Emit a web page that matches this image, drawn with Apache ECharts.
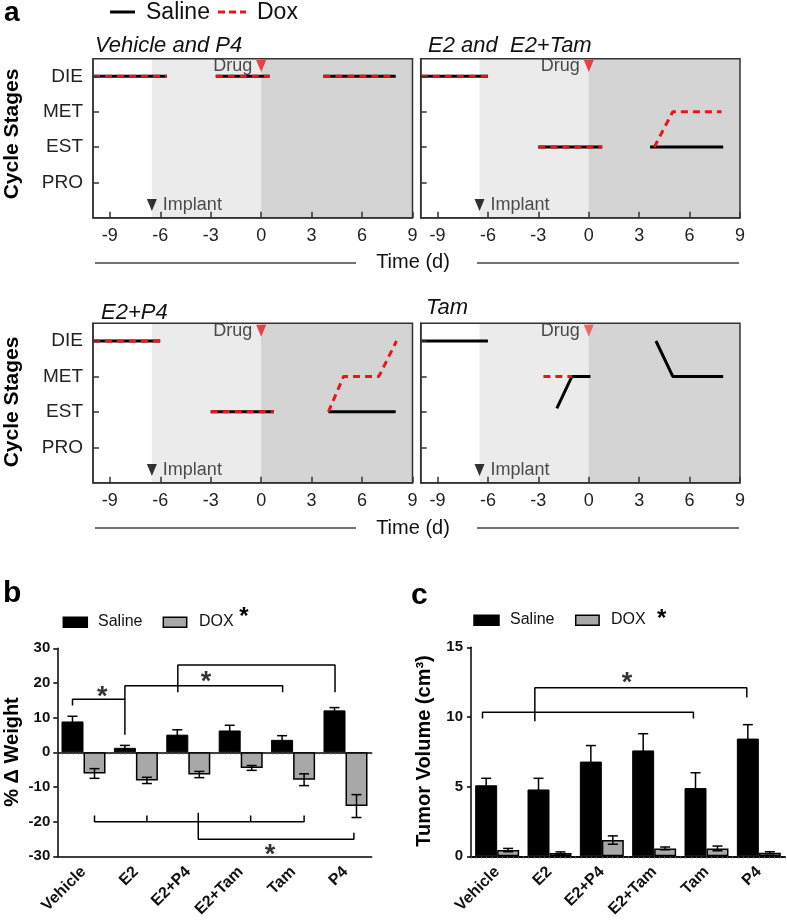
<!DOCTYPE html>
<html><head><meta charset="utf-8">
<script src="https://cdn.jsdelivr.net/npm/echarts@6/dist/echarts.min.js"></script>
<style>html,body{margin:0;padding:0;background:#fff}#c{width:787px;height:920px}</style>
</head><body><div id="c"></div>
<script>
const FONT = '"Liberation Sans", Arial, Helvetica, sans-serif';

// ---------- Panel a data ----------
const stageNames = ['PRO', 'EST', 'MET', 'DIE'];
const stageValues = [1, 2, 3, 4];
const timeTicks = [-9, -6, -3, 0, 3, 6, 9];
const implantDay = -6.5;
const drugDay = 0;
const panelTitles = ['Vehicle and P4', 'E2 and  E2+Tam', 'E2+P4', 'Tam'];

const vehP4Saline = [[[-10, 4], [-5.6, 4]], [[-2.7, 4], [0.5, 4]], [[3.7, 4], [8, 4]]];
const vehP4Dox    = [[[-10, 4], [-5.6, 4]], [[-2.7, 4], [0.5, 4]], [[3.7, 4], [8, 4]]];
const e2Saline    = [[[-10, 4], [-6, 4]], [[-3, 2], [0.8, 2]], [[3.65, 2], [8, 2]]];
const e2Dox       = [[[-10, 4], [-6, 4]], [[-3, 2], [0.8, 2]], [[3.9, 2], [5, 3], [7.9, 3]]];
const e2p4Saline  = [[[-10, 4], [-6, 4]], [[-3, 2], [0.75, 2]], [[4, 2], [8, 2]]];
const e2p4Dox     = [[[-10, 4], [-6, 4]], [[-3, 2], [0.75, 2]], [[4, 2], [4.9, 3], [7, 3], [8.05, 4]]];
const tamSaline   = [[[-10, 4], [-6, 4]], [[-1.9, 2.1], [-1, 3], [0.1, 3]], [[4, 4], [5, 3], [8, 3]]];
const tamDox      = [[[-2.7, 3], [-1, 3]]];

const panelSaline = [vehP4Saline, e2Saline, e2p4Saline, tamSaline];
const panelDox = [vehP4Dox, e2Dox, e2p4Dox, tamDox];

// ---------- Panel b / c data ----------
const categories = ['Vehicle', 'E2', 'E2+P4', 'E2+Tam', 'Tam', 'P4'];
const weightSaline    = [8.9, 1.3, 5.1, 6.3, 3.6, 12.1];
const weightSalineErr = [1.5, 0.7, 1.4, 1.5, 1.2, 0.8];
const weightDox       = [-6.1, -8.1, -6.4, -4.5, -7.9, -15.5];
const weightDoxErr    = [1.4, 0.9, 0.9, 0.7, 1.7, 3.3];
const weightTicks = { min: -30, max: 30, interval: 10 };

const volumeSaline    = [5.1, 4.8, 6.8, 7.6, 4.9, 8.45];
const volumeSalineErr = [0.5, 0.8, 1.15, 1.2, 1.1, 1.0];
const volumeDox       = [0.45, 0.24, 1.17, 0.57, 0.57, 0.26];
const volumeDoxErr    = [0.12, 0.08, 0.3, 0.1, 0.17, 0.07];
const volumeTicks = { min: 0, max: 15, interval: 5 };

// significance brackets (x in category units 0..6, y in data units)
const weightBrackets = [
  [[0.29, 13.5], [0.29, 15.3], [1.29, 15.3]],
  [[1.29, 5.1], [1.29, 19.2], [4.3, 19.2], [4.3, 17.3]],
  [[2.3, 17.3], [2.3, 25.2], [5.3, 25.2], [5.3, 17.3]],
  [[0.71, -18.2], [0.71, -20], [4.71, -20], [4.71, -18.2]],
  [[1.71, -18.2], [1.71, -20]],
  [[3.69, -18.2], [3.69, -20]],
  [[2.69, -17.4], [2.69, -25.1], [5.66, -25.1], [5.66, -23.2]]
];
const weightStars = [[0.86, 17.5], [2.84, 21.9], [4.06, -28.0]];
const volumeBrackets = [
  [[0.22, 9.9], [0.22, 10.34], [4.25, 10.34], [4.25, 9.9]],
  [[1.22, 9.7], [1.22, 12.1], [5.27, 12.1], [5.27, 11.4]]
];
const volumeStars = [[2.98, 12.8]];

// ---------- layout ----------
const aGrids = [
  { left: 93, top: 58.7, width: 319.5, height: 159 },
  { left: 420.7, top: 58.7, width: 319.3, height: 159 },
  { left: 93, top: 323.3, width: 319.5, height: 159.4 },
  { left: 420.7, top: 323.3, width: 319.3, height: 159.4 }
];
const RED = '#e8161b';
const AX = '#333';

const grids = [], xAxes = [], yAxes = [], series = [];

aGrids.forEach((g, i) => {
  grids.push(Object.assign({ show: true, borderColor: AX, borderWidth: 1.5, backgroundColor: 'transparent', z: 6 }, g));
  xAxes.push({
    type: 'value', gridIndex: i, min: -10, max: 9, z: 6,
    axisLine: { show: true, onZero: false, lineStyle: { color: AX, width: 1.5 } },
    axisTick: { show: true, inside: true, length: 6, customValues: timeTicks, lineStyle: { color: AX, width: 1.5 } },
    axisLabel: { customValues: timeTicks, fontSize: 18, color: '#222', margin: 9, fontFamily: FONT },
    splitLine: { show: false }
  });
  yAxes.push({
    type: 'value', gridIndex: i, min: 0, max: 4.5, z: 6,
    axisLine: { show: true, onZero: false, lineStyle: { color: AX, width: 1.5 } },
    axisTick: { show: true, inside: true, length: 6, customValues: stageValues, lineStyle: { color: AX, width: 1.5 } },
    axisLabel: { show: i % 2 === 0, customValues: stageValues, fontSize: 19, color: '#222', margin: 10, fontFamily: FONT,
      formatter: v => stageNames[stageValues.indexOf(v)] },
    splitLine: { show: false }
  });
  panelSaline[i].forEach((seg, k) => {
    const s = {
      type: 'line', xAxisIndex: i, yAxisIndex: i, data: seg, symbol: 'none', silent: true, z: 2,
      lineStyle: { color: '#000', width: 3 }
    };
    if (k === 0) {
      s.markArea = { silent: true, data: [
        [{ xAxis: implantDay, itemStyle: { color: '#ebebeb' } }, { xAxis: 9 }],
        [{ xAxis: drugDay, itemStyle: { color: '#d4d4d4' } }, { xAxis: 9 }]
      ] };
    }
    series.push(s);
  });
  panelDox[i].forEach(seg => {
    series.push({
      type: 'line', xAxisIndex: i, yAxisIndex: i, data: seg, symbol: 'none', silent: true, z: 3,
      lineStyle: { color: RED, width: 3, type: [7, 5] }
    });
  });
  series.push({
    type: 'scatter', xAxisIndex: i, yAxisIndex: i, silent: true, z: 4,
    symbol: 'triangle', symbolRotate: 180, symbolSize: [10, 12],
    data: [{ value: [implantDay, 0.36], itemStyle: { color: '#000' },
             label: { show: true, position: 'right', distance: 6, formatter: 'Implant' } },
           { value: [drugDay, 4.29], itemStyle: { color: i === 3 ? '#f04848' : RED },
             label: { show: true, position: 'left', distance: 4, formatter: 'Drug' } }],
    label: { fontSize: 18, color: '#222', fontFamily: FONT }
  });
});

// panel b (grid 4) and c (grid 5)
grids.push({ left: 57.3, top: 648.3, width: 314.4, height: 208.4 });
grids.push({ left: 471, top: 647.3, width: 314, height: 209.4 });

function catAxis(gi) {
  return {
    type: 'category', gridIndex: gi, data: categories, position: 'bottom',
    axisLine: { onZero: false, lineStyle: { color: '#000', width: 1.5 } },
    axisTick: { show: false },
    axisLabel: { rotate: 45, interval: 0, fontSize: 16, fontWeight: 'bold', color: '#111', margin: 13, fontFamily: FONT }
  };
}
function helperAxis(gi) {
  return {
    type: 'value', gridIndex: gi, min: 0, max: 6, interval: 1, position: 'bottom',
    axisLine: { show: true, onZero: true, lineStyle: { color: '#000', width: 1.5 } },
    axisTick: { show: true, length: 2, lineStyle: { color: '#555', width: 1 } },
    minorTick: { show: true, splitNumber: 10, length: 2, lineStyle: { color: '#555', width: 1 } },
    axisLabel: { show: false }, splitLine: { show: false }
  };
}
function valAxis(gi, t, margin) {
  return {
    type: 'value', gridIndex: gi, min: t.min, max: t.max, interval: t.interval,
    axisLine: { show: true, onZero: false, lineStyle: { color: '#000', width: 1.5 } },
    axisTick: { show: true, length: 4, lineStyle: { color: '#000', width: 1.5 } },
    axisLabel: { fontSize: 15, fontWeight: 'bold', color: '#111', margin: margin, fontFamily: FONT },
    splitLine: { show: false }
  };
}
xAxes.push(catAxis(4), helperAxis(4), catAxis(5), helperAxis(5));
yAxes.push(valAxis(4, weightTicks, 7), valAxis(5, volumeTicks, 8));

function errRender(offset) {
  return function (params, api) {
    const i = api.value(0), v = api.value(1), e = api.value(2);
    const band = api.size([1, 0])[0];
    const x = api.coord([i, v])[0] + offset * band;
    const yHi = api.coord([i, v + e])[1];
    const yLo = api.coord([i, v - e])[1];
    const w = 5;
    const style = { stroke: '#000', lineWidth: 1.5 };
    return { type: 'group', children: [
      { type: 'line', shape: { x1: x, y1: yHi, x2: x, y2: yLo }, style },
      { type: 'line', shape: { x1: x - w, y1: yHi, x2: x + w, y2: yHi }, style },
      { type: 'line', shape: { x1: x - w, y1: yLo, x2: x + w, y2: yLo }, style }
    ] };
  };
}

function barPanel(xi, yi, hxi, sal, salErr, dox, doxErr, brackets, stars) {
  series.push({ type: 'bar', name: 'Saline', xAxisIndex: xi, yAxisIndex: yi, data: sal, barWidth: '42%', barGap: '0%',
    itemStyle: { color: '#000', borderColor: '#000', borderWidth: 1 }, silent: true });
  series.push({ type: 'bar', name: 'DOX', xAxisIndex: xi, yAxisIndex: yi, data: dox, barWidth: '42%', barGap: '0%',
    itemStyle: { color: '#a8a8a8', borderColor: '#000', borderWidth: 1.5 }, silent: true });
  series.push({ type: 'custom', xAxisIndex: xi, yAxisIndex: yi, z: 4, silent: true,
    renderItem: errRender(-0.21), data: sal.map((v, i) => [i, v, salErr[i]]) });
  series.push({ type: 'custom', xAxisIndex: xi, yAxisIndex: yi, z: 4, silent: true,
    renderItem: errRender(0.21), data: dox.map((v, i) => [i, v, doxErr[i]]) });
  brackets.forEach(b => series.push({ type: 'line', xAxisIndex: hxi, yAxisIndex: yi, data: b, symbol: 'none', silent: true,
    lineStyle: { color: '#000', width: 1.5 }, z: 5 }));
  series.push({ type: 'scatter', xAxisIndex: hxi, yAxisIndex: yi, data: stars, symbolSize: 1, silent: true,
    itemStyle: { color: 'rgba(0,0,0,0)' },
    label: { show: true, position: 'inside', formatter: '*', fontSize: 27, fontWeight: 'bold', color: '#000', offset: [0, 6], fontFamily: FONT } });
}
barPanel(4, 4, 5, weightSaline, weightSalineErr, weightDox, weightDoxErr, weightBrackets, weightStars);
barPanel(6, 5, 7, volumeSaline, volumeSalineErr, volumeDox, volumeDoxErr, volumeBrackets, volumeStars);

// ---------- graphics ----------
function txt(x, y, text, font, opts) {
  return Object.assign({ type: 'text', x, y, silent: true, z: 10,
    style: Object.assign({ text, font, fill: '#111', align: 'left', textAlign: 'left', verticalAlign: 'middle', textVerticalAlign: 'middle' }, (opts && opts.style) || {}) },
    (opts && opts.rotation) ? { rotation: opts.rotation } : {});
}
function ln(x1, y1, x2, y2, stroke, w, dash) {
  return { type: 'line', silent: true, z: 10, shape: { x1, y1, x2, y2 }, style: { stroke, lineWidth: w, lineDash: dash || null } };
}
function rc(x, y, w, h, fill) {
  return { type: 'rect', silent: true, z: 10, shape: { x, y, width: w, height: h }, style: { fill, stroke: '#000', lineWidth: 1.5 } };
}
const IT = 'italic 22px ' + FONT;
const graphics = [
  txt(4, 13, 'a', 'bold 28px ' + FONT, { style: { fill: '#000' } }),
  ln(110, 12, 135, 12, '#000', 3),
  txt(146, 13, 'Saline', '23px ' + FONT),
  ln(218, 12, 246, 12, RED, 3, [7, 4]),
  txt(257, 13, 'Dox', '23px ' + FONT),
  txt(95, 46, panelTitles[0], IT),
  txt(428, 46, panelTitles[1], IT),
  txt(101, 312.5, panelTitles[2], IT),
  txt(426, 308, panelTitles[3], IT),
  txt(12, 134, 'Cycle Stages', 'bold 21px ' + FONT, { rotation: Math.PI / 2, style: { fill: '#000', align: 'center', textAlign: 'center' } }),
  txt(12, 402, 'Cycle Stages', 'bold 21px ' + FONT, { rotation: Math.PI / 2, style: { fill: '#000', align: 'center', textAlign: 'center' } }),
  ln(95, 263, 356, 263, '#444', 1.5), ln(477, 263, 739, 263, '#444', 1.5),
  txt(413, 262, 'Time (d)', '20px ' + FONT, { style: { align: 'center', textAlign: 'center' } }),
  ln(95, 528, 356, 528, '#444', 1.5), ln(477, 528, 739, 528, '#444', 1.5),
  txt(413, 528, 'Time (d)', '20px ' + FONT, { style: { align: 'center', textAlign: 'center' } }),
  // panel b
  txt(3, 594, 'b', 'bold 30px ' + FONT, { style: { fill: '#000' } }),
  rc(63.3, 617.3, 24, 10, '#000'), txt(98, 622, 'Saline', '16px ' + FONT),
  rc(163.3, 617.3, 23.4, 10, '#a8a8a8'), txt(199, 622, 'DOX', '16px ' + FONT),
  txt(244, 617, '*', 'bold 24px ' + FONT, { style: { fill: '#000', align: 'center', textAlign: 'center' } }),
  txt(12, 752, '% \u0394 Weight', 'bold 20px ' + FONT, { rotation: Math.PI / 2, style: { fill: '#000', align: 'center', textAlign: 'center' } }),
  // panel c
  txt(411, 596, 'c', 'bold 30px ' + FONT, { style: { fill: '#000' } }),
  rc(474, 615.3, 25, 10, '#000'), txt(510, 620, 'Saline', '16px ' + FONT),
  rc(575.7, 615.3, 23.4, 10, '#a8a8a8'), txt(611, 620, 'DOX', '16px ' + FONT),
  txt(661.7, 619, '*', 'bold 24px ' + FONT, { style: { fill: '#000', align: 'center', textAlign: 'center' } }),
  txt(424, 751, 'Tumor Volume (cm\u00b3)', 'bold 20px ' + FONT, { rotation: Math.PI / 2, style: { fill: '#000', align: 'center', textAlign: 'center' } })
];

const chart = echarts.init(document.getElementById('c'), null, { renderer: 'canvas' });
chart.setOption({
  animation: false,
  backgroundColor: '#fff',
  textStyle: { fontFamily: FONT },
  grid: grids,
  xAxis: xAxes,
  yAxis: yAxes,
  series: series,
  graphic: graphics
});
</script>
</body></html>
